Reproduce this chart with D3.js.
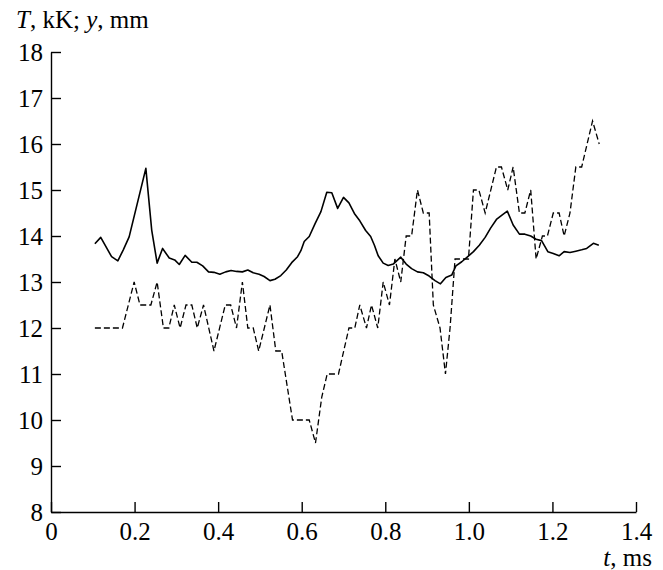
<!DOCTYPE html>
<html>
<head>
<meta charset="utf-8">
<script src="https://cdn.jsdelivr.net/npm/d3@7"></script>
<style>
  body { margin: 0; background: #fff; }
</style>
</head>
<body>
<div class="chart"></div>
<script>
// Data
// solid line: temperature T, kK
var tempTime = [0.105, 0.119, 0.145, 0.160, 0.173, 0.187, 0.227, 0.241, 0.254, 0.267,
  0.283, 0.296, 0.307, 0.321, 0.337, 0.349, 0.363, 0.377, 0.390, 0.404,
  0.418, 0.431, 0.444, 0.458, 0.471, 0.484, 0.498, 0.510, 0.524, 0.536,
  0.550, 0.563, 0.576, 0.590, 0.598, 0.606, 0.618, 0.632, 0.646, 0.660,
  0.672, 0.686, 0.700, 0.713, 0.726, 0.739, 0.753, 0.765, 0.774, 0.783,
  0.795, 0.807, 0.819, 0.837, 0.850, 0.863, 0.877, 0.891, 0.905, 0.919,
  0.932, 0.945, 0.959, 0.969, 0.983, 0.996, 1.011, 1.025, 1.039, 1.052,
  1.066, 1.080, 1.092, 1.106, 1.121, 1.134, 1.148, 1.161, 1.174, 1.189,
  1.202, 1.216, 1.228, 1.242, 1.256, 1.270, 1.282, 1.298, 1.311];
var tempValues = [13.83, 13.97, 13.55, 13.46, 13.70, 13.98, 15.47, 14.13, 13.41, 13.73,
  13.52, 13.48, 13.38, 13.58, 13.43, 13.43, 13.35, 13.22, 13.21, 13.17,
  13.22, 13.25, 13.23, 13.22, 13.26, 13.20, 13.17, 13.12, 13.03, 13.06,
  13.14, 13.26, 13.42, 13.55, 13.68, 13.88, 13.99, 14.27, 14.53, 14.95,
  14.94, 14.60, 14.84, 14.72, 14.49, 14.33, 14.12, 13.99, 13.80, 13.57,
  13.41, 13.36, 13.39, 13.54, 13.39, 13.29, 13.22, 13.20, 13.13, 13.03,
  12.96, 13.10, 13.15, 13.35, 13.44, 13.54, 13.66, 13.80, 13.97, 14.17,
  14.36, 14.46, 14.54, 14.24, 14.04, 14.04, 14.00, 13.93, 13.90, 13.66,
  13.62, 13.57, 13.66, 13.64, 13.67, 13.70, 13.73, 13.84, 13.80];

// dashed line: position y, mm
var posTime = [0.105, 0.171, 0.199, 0.213, 0.239, 0.254, 0.269, 0.282, 0.295, 0.309,
  0.323, 0.337, 0.350, 0.365, 0.390, 0.417, 0.430, 0.444, 0.458, 0.471,
  0.484, 0.497, 0.524, 0.538, 0.552, 0.578, 0.618, 0.633, 0.648, 0.661,
  0.688, 0.713, 0.727, 0.739, 0.755, 0.767, 0.782, 0.795, 0.810, 0.823,
  0.837, 0.850, 0.863, 0.877, 0.891, 0.905, 0.915, 0.931, 0.944, 0.955,
  0.967, 0.999, 1.011, 1.024, 1.039, 1.066, 1.078, 1.093, 1.106, 1.121,
  1.134, 1.148, 1.161, 1.176, 1.188, 1.202, 1.216, 1.228, 1.242, 1.256,
  1.270, 1.296, 1.312];
var posValues = [12, 12, 13, 12.5, 12.5, 13, 12, 12, 12.5, 12,
  12.5, 12.5, 12, 12.5, 11.5, 12.5, 12.5, 12, 13, 12,
  12, 11.5, 12.5, 11.5, 11.5, 10, 10, 9.5, 10.5, 11,
  11, 12, 12, 12.5, 12, 12.5, 12, 13, 12.5, 13.5,
  13, 14, 14, 15, 14.5, 14.5, 12.5, 12, 11, 12,
  13.5, 13.5, 15, 15, 14.5, 15.5, 15.5, 15, 15.5, 14.5,
  14.5, 15, 13.5, 14, 14, 14.5, 14.5, 14, 14.5, 15.5,
  15.5, 16.5, 16];

var xTicks = [0, 0.2, 0.4, 0.6, 0.8, 1.0, 1.2, 1.4];
var yTicks = [8, 9, 10, 11, 12, 13, 14, 15, 16, 17, 18];

var serif = "'Liberation Serif', 'Times New Roman', 'DejaVu Serif', serif";

var svgWidth = 663;
var svgHeight = 570;

var margin = {
  top: 52,
  right: 27,
  bottom: 58,
  left: 51
};

var width = svgWidth - margin.left - margin.right;
var height = svgHeight - margin.top - margin.bottom;

var svg = d3.select(".chart")
  .append("svg")
  .attr("width", svgWidth)
  .attr("height", svgHeight)
  .style("font-family", serif);

var chartGroup = svg.append("g")
  .attr("transform", `translate(${margin.left}, ${margin.top})`);

// Scales
var xScale = d3.scaleLinear()
  .domain([0, 1.4])
  .range([0, width]);

var yScale = d3.scaleLinear()
  .domain([8, 18])
  .range([height, 0]);

// Axes, ticks pointing inward
var bottomAxis = d3.axisBottom(xScale)
  .tickValues(xTicks)
  .tickFormat(d => d === 0 ? "0" : d3.format(".1f")(d))
  .tickSizeInner(-10)
  .tickSizeOuter(0)
  .tickPadding(10);

var leftAxis = d3.axisLeft(yScale)
  .tickValues(yTicks)
  .tickFormat(d3.format("d"))
  .tickSizeInner(-10)
  .tickSizeOuter(0)
  .tickPadding(8);

var xAxisGroup = chartGroup.append("g")
  .attr("transform", `translate(0, ${height})`)
  .call(bottomAxis);

var yAxisGroup = chartGroup.append("g")
  .call(leftAxis);

[xAxisGroup, yAxisGroup].forEach(function(g) {
  g.attr("font-family", serif);
  g.selectAll("path, line")
    .attr("stroke", "#000")
    .attr("stroke-width", 1.4);
  g.selectAll("text")
    .style("font-family", serif)
    .style("font-size", "25px")
    .attr("fill", "#000");
});

yAxisGroup.selectAll("text").attr("dy", "0.33em");

// Lines
var line = d3.line()
  .x(d => xScale(d[0]))
  .y(d => yScale(d[1]));

var tempData = tempTime.map((t, i) => [t, tempValues[i]]);
var posData = posTime.map((t, i) => [t, posValues[i]]);

chartGroup.append("path")
  .datum(posData)
  .attr("d", line)
  .attr("fill", "none")
  .attr("stroke", "#000")
  .attr("stroke-width", 1.3)
  .attr("stroke-dasharray", "6,3");

chartGroup.append("path")
  .datum(tempData)
  .attr("d", line)
  .attr("fill", "none")
  .attr("stroke", "#000")
  .attr("stroke-width", 1.6)
  .attr("stroke-linejoin", "round");

// Axis titles
var yTitle = svg.append("text")
  .attr("x", 16)
  .attr("y", 28)
  .style("font-family", serif)
  .style("font-size", "25px");
yTitle.append("tspan").style("font-style", "italic").text("T");
yTitle.append("tspan").text(", kK; ");
yTitle.append("tspan").style("font-style", "italic").text("y");
yTitle.append("tspan").text(", mm");

var xTitle = svg.append("text")
  .attr("x", 652)
  .attr("y", 566)
  .attr("text-anchor", "end")
  .style("font-family", serif)
  .style("font-size", "25px");
xTitle.append("tspan").style("font-style", "italic").text("t");
xTitle.append("tspan").text(", ms");
</script>
</body>
</html>
